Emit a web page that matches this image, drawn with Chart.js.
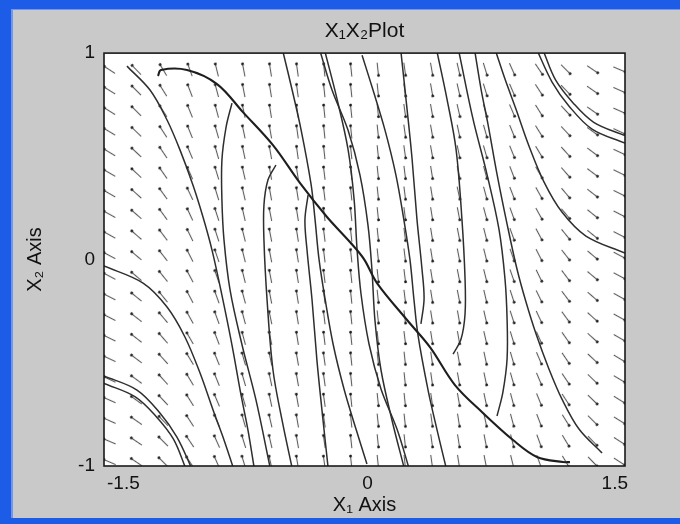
<!DOCTYPE html>
<html>
<head>
<meta charset="utf-8">
<script src="https://cdn.jsdelivr.net/npm/chart.js@4.4.1/dist/chart.umd.min.js"></script>
<style>
html,body{margin:0;padding:0;background:#c9c9c9;overflow:hidden;}
#c{display:block;}
</style>
</head>
<body>
<canvas id="c" width="680" height="524"></canvas>
<script>
// ---------- data ----------
const X_TICKS = [-1.5, 0, 1.5];
const Y_TICKS = [-1, 0, 1];

// direction-field grid
const ARROW_X = [-1.47,-1.315,-1.16,-1.006,-0.851,-0.696,-0.542,-0.387,-0.232,-0.077,0.077,0.232,0.387,0.542,0.696,0.851,1.006,1.16,1.315,1.47];
const ARROW_Y = [0.92,0.82,0.72,0.62,0.52,0.42,0.32,0.22,0.12,0.02,-0.08,-0.18,-0.28,-0.38,-0.48,-0.58,-0.68,-0.78,-0.88,-0.98];
// tilt of each arrow (degrees below horizontal, "\" direction), rows top -> bottom
const ARROW_ANGLE = [
[33,46,59,70,76,79,81,82,84,84,84,82,80,77,73,66,56,45,34,23],
[32,45,58,69,75,79,81,82,84,84,84,82,80,77,73,67,57,46,35,24],
[32,45,57,68,75,78,81,82,84,84,84,82,80,77,74,67,58,47,35,24],
[31,44,57,68,74,78,80,82,84,84,84,82,80,78,74,68,58,47,36,25],
[31,43,56,67,74,78,80,82,84,84,84,82,80,78,74,68,59,48,37,25],
[30,43,55,66,73,77,80,81,83,84,84,83,81,78,75,69,60,49,37,26],
[30,42,54,65,73,77,80,81,83,84,84,83,81,78,75,69,61,50,38,26],
[29,41,54,65,72,77,79,81,83,84,84,83,81,79,75,70,61,50,39,27],
[29,41,53,64,72,76,79,81,83,84,84,83,81,79,76,70,62,51,39,27],
[28,40,52,63,71,76,79,81,83,84,84,83,81,79,76,71,63,52,40,28],
[28,40,51,62,71,76,79,81,83,84,84,83,81,79,76,71,64,53,40,28],
[27,39,51,62,70,75,79,81,83,84,84,83,81,79,77,72,64,53,41,29],
[27,38,50,61,70,75,78,81,83,84,84,83,81,80,77,72,65,54,42,29],
[26,38,49,60,69,75,78,81,83,84,84,83,81,80,77,73,66,55,42,30],
[25,37,48,59,68,74,78,80,82,84,84,84,82,80,78,74,67,56,43,31],
[25,36,48,59,68,74,78,80,82,84,84,84,82,80,78,74,67,56,44,31],
[24,36,47,58,67,74,78,80,82,84,84,84,82,80,78,75,68,57,44,32],
[24,35,46,57,67,74,77,80,82,84,84,84,82,81,78,75,69,58,45,32],
[23,34,45,56,66,73,77,80,82,84,84,84,82,81,79,76,70,59,46,33],
[23,34,45,56,66,73,77,80,82,84,84,84,82,81,79,76,70,59,46,33]
];
// arrow head per column: 1 = head at upper end, -1 = head at lower end
const ARROW_DIR = [1,1,1,1,1,1,1,1,1,1,-1,-1,-1,-1,-1,-1,-1,-1,-1,-1];

// trajectories [x1, x2]
const TRAJ_S = [[-1.189,0.889],[-1.172,0.918],[-1.022,0.918],[-0.849,0.850],[-0.700,0.714],[-0.527,0.554],[-0.371,0.370],[-0.216,0.206],[-0.084,0.085],[-0.003,0.002],[0.072,-0.114],[0.245,-0.293],[0.377,-0.424],[0.521,-0.608],[0.682,-0.743],[0.855,-0.874],[0.993,-0.956],[1.143,-0.981],[1.183,-0.981]];
const TRAJ_P1  = [[-1.5,-0.564],[-1.31,-0.632],[-1.178,-0.743],[-1.08,-0.86],[-0.993,-1.015]];
const TRAJ_P1B = [[-1.5,-0.60],[-1.32,-0.665],[-1.2,-0.76],[-1.1,-0.87],[-1.03,-1.01]];
const TRAJ_P2  = [[-1.5,-0.031],[-1.275,-0.114],[-1.137,-0.230],[-1.034,-0.375],[-0.947,-0.550],[-0.872,-0.729],[-0.809,-0.874],[-0.757,-1.005]];
const TRAJ_P3  = [[-1.368,0.937],[-1.235,0.821],[-1.137,0.676],[-1.062,0.530],[-0.988,0.361],[-0.930,0.206],[-0.878,0.046],[-0.821,-0.172],[-0.763,-0.414],[-0.711,-0.656],[-0.671,-0.826],[-0.636,-1.005]];
const TRAJ_P4  = [[-0.763,0.758],[-0.797,0.642],[-0.821,0.482],[-0.821,0.288],[-0.809,0.094],[-0.774,-0.148],[-0.705,-0.414],[-0.625,-0.680],[-0.544,-1.005]];
const TRAJ_P5  = [[-0.510,0.458],[-0.556,0.385],[-0.579,0.264],[-0.579,0.094],[-0.561,-0.196],[-0.527,-0.535],[-0.475,-0.777],[-0.418,-1.005]];
const TRAJ_P7  = [[-0.325,0.312],[-0.343,0.191],[-0.331,0.046],[-0.302,-0.196],[-0.274,-0.487],[-0.245,-0.729],[-0.210,-1.005]];
const TRAJ_E2M = [[-0.469,1.005],[-0.418,0.826],[-0.366,0.632],[-0.308,0.366],[-0.285,0.196],[-0.262,0.002],[-0.227,-0.191],[-0.181,-0.409],[-0.118,-0.627],[-0.049,-0.821],[0.014,-0.99]];
const TRAJ_P6  = [[-0.256,1.010],[-0.187,0.821],[-0.095,0.627],[-0.026,0.409],[0.020,0.167],[0.043,-0.051],[0.060,-0.293],[0.095,-0.535],[0.158,-0.777],[0.227,-1.005]];
const TRAJ_P6M = [[-0.227,1.005],[-0.158,0.777],[-0.095,0.535],[-0.060,0.293],[-0.043,0.051],[-0.020,-0.167],[0.026,-0.409],[0.095,-0.627],[0.187,-0.821],[0.256,-1.01]];
const TRAJ_E2  = [[-0.014,0.990],[0.049,0.821],[0.118,0.627],[0.181,0.409],[0.227,0.191],[0.262,-0.002],[0.285,-0.196],[0.308,-0.366],[0.366,-0.632],[0.418,-0.826],[0.469,-1.005]];
const TRAJ_P7M = [[0.210,1.005],[0.245,0.729],[0.274,0.487],[0.302,0.196],[0.331,-0.046],[0.343,-0.191],[0.325,-0.312]];
const TRAJ_P5M = [[0.418,1.005],[0.475,0.777],[0.527,0.535],[0.561,0.196],[0.579,-0.094],[0.579,-0.264],[0.556,-0.385],[0.510,-0.458]];
const TRAJ_P4M = [[0.544,1.005],[0.625,0.680],[0.705,0.414],[0.774,0.148],[0.809,-0.094],[0.821,-0.288],[0.821,-0.482],[0.797,-0.642],[0.763,-0.758]];
const TRAJ_P3M = [[0.636,1.005],[0.671,0.826],[0.711,0.656],[0.763,0.414],[0.821,0.172],[0.878,-0.046],[0.930,-0.206],[0.988,-0.361],[1.062,-0.530],[1.137,-0.676],[1.235,-0.821],[1.368,-0.937]];
const TRAJ_P2M = [[0.757,1.005],[0.809,0.874],[0.872,0.729],[0.947,0.550],[1.034,0.375],[1.137,0.230],[1.275,0.114],[1.5,0.031]];
const TRAJ_P1M = [[0.993,1.015],[1.08,0.86],[1.178,0.743],[1.31,0.632],[1.5,0.564]];
const TRAJ_P1BM= [[1.03,1.01],[1.1,0.87],[1.2,0.76],[1.32,0.665],[1.5,0.60]];

const TRAJECTORIES = [TRAJ_P1,TRAJ_P1B,TRAJ_P2,TRAJ_P3,TRAJ_P4,TRAJ_P5,TRAJ_P7,TRAJ_E2M,TRAJ_P6,
  TRAJ_P6M,TRAJ_E2,TRAJ_P7M,TRAJ_P5M,TRAJ_P4M,TRAJ_P3M,TRAJ_P2M,TRAJ_P1M,TRAJ_P1BM];

// ---------- styling helpers ----------
function arrowImage(headAtStart){
  const c = document.createElement('canvas');
  c.width = 16; c.height = 5;
  const g = c.getContext('2d');
  g.strokeStyle = 'rgba(50,50,50,0.8)';
  g.lineWidth = 1.1;
  g.beginPath(); g.moveTo(1,2.5); g.lineTo(15,2.5); g.stroke();
  g.fillStyle = 'rgba(20,20,20,0.9)';
  g.beginPath(); g.arc(headAtStart ? 2.2 : 13.8, 2.5, 1.4, 0, Math.PI*2); g.fill();
  return c;
}
const IMG_UP = arrowImage(true);
const IMG_DOWN = arrowImage(false);

const arrowPts = [], arrowRot = [], arrowStyle = [];
ARROW_Y.forEach((y, r) => {
  ARROW_X.forEach((x, c) => {
    arrowPts.push({x, y});
    arrowRot.push(ARROW_ANGLE[r][c]);
    arrowStyle.push(ARROW_DIR[c] > 0 ? IMG_UP : IMG_DOWN);
  });
});

const toXY = arr => arr.map(p => ({x: p[0], y: p[1]}));

const datasets = [];
datasets.push({
  data: toXY(TRAJ_S), showLine: true, pointRadius: 0, borderColor: '#1e1e1e',
  borderWidth: 2.1, tension: 0.35, fill: false, clip: 0
});
TRAJECTORIES.forEach(t => datasets.push({
  data: toXY(t), showLine: true, pointRadius: 0, borderColor: '#2e2e2e',
  borderWidth: 1.5, tension: 0.35, fill: false, clip: 0
}));
datasets.push({
  data: arrowPts, showLine: false, pointRadius: 7, pointHoverRadius: 7,
  pointStyle: arrowStyle, rotation: arrowRot, clip: 0
});

const FONT = "'Liberation Sans', Arial, 'DejaVu Sans', sans-serif";

const frame = {
  id: 'frame',
  beforeDraw(chart) {
    const ctx = chart.ctx, W = chart.width, H = chart.height, a = chart.chartArea;
    ctx.save();
    ctx.fillStyle = '#c9c9c9';
    ctx.fillRect(0, 0, W, H);
    ctx.fillStyle = '#1d5ce6';
    ctx.fillRect(0, 0, W, 9);
    ctx.fillRect(0, 0, 11, H);
    ctx.fillRect(0, H - 6, W, 6);
    ctx.fillStyle = '#6f97f0';
    ctx.fillRect(11, 9, 2, H - 15);
    ctx.fillRect(11, 9, W - 11, 1);
    ctx.fillStyle = '#ffffff';
    ctx.fillRect(a.left, a.top, a.right - a.left, a.bottom - a.top);
    ctx.restore();
  },
  afterDraw(chart) {
    const ctx = chart.ctx, a = chart.chartArea;
    ctx.save();
    ctx.strokeStyle = '#1a1a1a';
    ctx.lineWidth = 1.6;
    ctx.strokeRect(a.left, a.top, a.right - a.left, a.bottom - a.top);
    ctx.restore();
  }
};

new Chart(document.getElementById('c'), {
  type: 'scatter',
  data: { datasets },
  options: {
    responsive: false,
    animation: false,
    events: [],
    layout: { padding: { top: 10, left: 12, right: 55, bottom: 4 } },
    plugins: {
      legend: { display: false },
      tooltip: { enabled: false },
      title: {
        display: true, text: 'X\u2081X\u2082Plot', fullSize: false,
        color: '#111', font: { family: FONT, size: 21, weight: 'normal', lineHeight: 1.1 },
        padding: { top: 10, bottom: 10 }
      }
    },
    scales: {
      x: {
        type: 'linear', min: -1.5, max: 1.5,
        afterBuildTicks: s => { s.ticks = X_TICKS.map(v => ({ value: v })); },
        afterFit: s => { s.height = 54; },
        grid: { display: false, drawTicks: false },
        border: { display: false },
        ticks: { align: 'inner', padding: 6, labelOffset: 3, color: '#111', maxRotation: 0, autoSkip: false,
                 font: { family: FONT, size: 19 } },
        title: { display: true, text: 'X\u2081 Axis', color: '#111',
                 font: { family: FONT, size: 20 }, padding: { top: 0, bottom: 3 } }
      },
      y: {
        type: 'linear', min: -1, max: 1,
        afterBuildTicks: s => { s.ticks = Y_TICKS.map(v => ({ value: v })); },
        afterFit: s => { s.width = 92; },
        grid: { display: false, drawTicks: false },
        border: { display: false },
        ticks: { padding: 9, color: '#111', autoSkip: false,
                 font: { family: FONT, size: 19 } },
        title: { display: true, text: 'X\u2082 Axis', color: '#111',
                 font: { family: FONT, size: 20 }, padding: { top: 11, bottom: 0 } }
      }
    }
  },
  plugins: [frame]
});
</script>
</body>
</html>
